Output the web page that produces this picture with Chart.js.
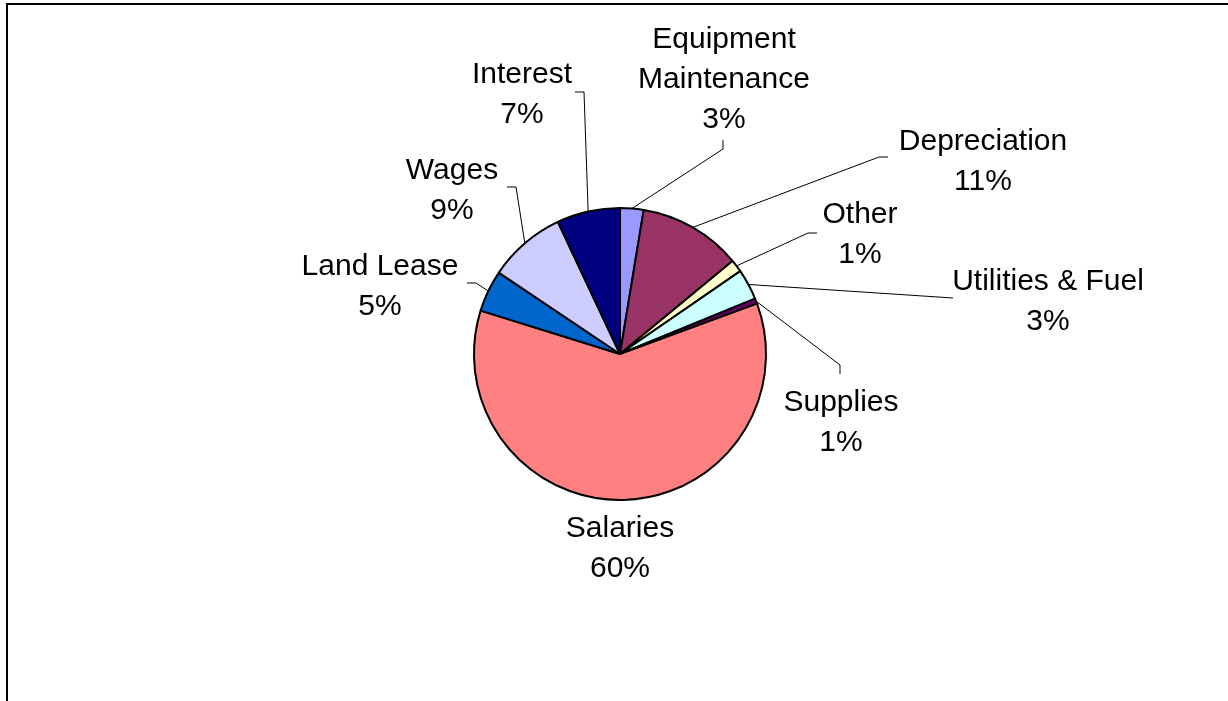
<!DOCTYPE html>
<html>
<head>
<meta charset="utf-8">
<script src="https://cdn.jsdelivr.net/npm/chart.js@4"></script>
<style>
  html, body { margin: 0; padding: 0; background: #fff; }
  #wrap { width: 1228px; height: 701px; }
</style>
</head>
<body>
<div id="wrap"><canvas id="costChart" width="1228" height="701"></canvas></div>
<script>
// categories, clockwise from 12 o'clock
const categories = [
  ['Equipment', 'Maintenance'], 'Depreciation', 'Other', 'Utilities & Fuel',
  'Supplies', 'Salaries', 'Land Lease', 'Wages', 'Interest'
];
const shares = [2.6, 11.4, 1.4, 3.4, 0.6, 60.4, 4.6, 8.6, 7.0];
const sliceColors = [
  '#9999FF', '#993366', '#FFFFCC', '#CCFFFF', '#660066',
  '#FF8080', '#0066CC', '#CCCCFF', '#000080'
];

// label placement, px from pie centre (for a 146px radius): text centre x, first baseline y
const labelPos = [
  [104, -306], [363, -204], [240, -131], [428, -64], [221, 57],
  [0, 183], [-240, -79], [-168, -175], [-98, -271]
];
// leader line end points and elbow direction
const leaderEnd = [
  [103, -214, 'v'], [268, -197, 'h'], [197, -121, 'h'], [333, -56, ''], [220, 20, 'v'],
  null, [-153, -71, 'h'], [-113, -167, 'h'], [-45, -262, 'h']
];

const FONT = '30px "Liberation Sans", Arial, sans-serif';
const LINE_H = 40;

const frame = {
  id: 'frame',
  afterDraw(chart) {
    const c = chart.ctx;
    c.save();
    c.strokeStyle = '#000';
    c.lineWidth = 2;
    c.beginPath();
    c.moveTo(7, 701);
    c.lineTo(7, 4);
    c.lineTo(1228, 4);
    c.stroke();
    c.restore();
  }
};

const pieLabels = {
  id: 'pieLabels',
  afterDatasetsDraw(chart) {
    const c = chart.ctx;
    const meta = chart.getDatasetMeta(0);
    const total = shares.reduce((a, b) => a + b, 0);
    c.save();
    c.font = FONT;
    c.fillStyle = '#000';
    c.textAlign = 'center';
    c.textBaseline = 'alphabetic';
    meta.data.forEach((arc, i) => {
      const { x, y, startAngle, endAngle, outerRadius } = arc.getProps(['x', 'y', 'startAngle', 'endAngle', 'outerRadius'], true);
      const k = outerRadius / 146;
      const mid = (startAngle + endAngle) / 2;
      const tx = x + labelPos[i][0] * k;
      const ty = y + labelPos[i][1] * k;

      const lead = leaderEnd[i];
      if (lead) {
        const px = x + Math.cos(mid) * outerRadius;
        const py = y + Math.sin(mid) * outerRadius;
        const ex = x + lead[0] * k;
        const ey = y + lead[1] * k;
        let kx = ex, ky = ey;
        if (lead[2] === 'h') kx = ex + (ex < tx ? -9 : 9);
        if (lead[2] === 'v') ky = ey + (ey < ty ? -9 : 9);
        c.strokeStyle = '#000';
        c.lineWidth = 1;
        c.beginPath();
        c.moveTo(px, py);
        c.lineTo(kx, ky);
        c.lineTo(ex, ey);
        c.stroke();
      }

      const name = Array.isArray(categories[i]) ? categories[i] : [categories[i]];
      const lines = name.concat([Math.round(shares[i] / total * 100) + '%']);
      lines.forEach((t, j) => c.fillText(t, tx, ty + j * LINE_H));
    });
    c.restore();
  }
};

const ctx = document.getElementById('costChart').getContext('2d');
const chart = new Chart(ctx, {
  type: 'pie',
  data: {
    labels: categories,
    datasets: [{
      data: shares,
      backgroundColor: sliceColors,
      borderColor: '#000',
      borderWidth: 2
    }]
  },
  options: {
    responsive: false,
    animation: false,
    radius: 146,
    layout: { padding: { left: 240, right: 228, top: 200, bottom: 193 } },
    plugins: {
      legend: { display: false },
      tooltip: { enabled: false }
    }
  },
  plugins: [pieLabels, frame]
});
</script>
</body>
</html>
